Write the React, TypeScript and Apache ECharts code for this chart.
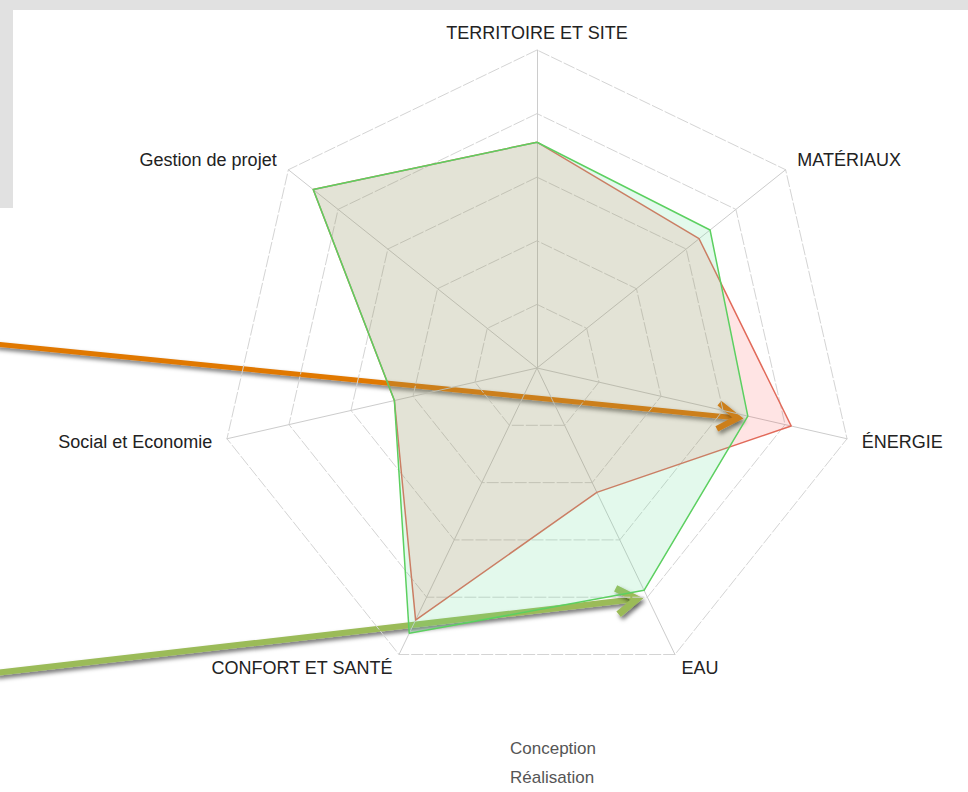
import React, { useEffect, useRef } from "react";
import * as echarts from "echarts";

const axes = [
  "TERRITOIRE ET SITE",
  "Gestion de projet",
  "Social et Economie",
  "CONFORT ET SANTÉ",
  "EAU",
  "ÉNERGIE",
  "MATÉRIAUX",
];
const axisMax = 5;
const conception = [3.55, 4.5, 2.3, 4.4, 2.17, 4.1, 3.26];
const realisation = [3.55, 4.5, 2.3, 4.63, 3.88, 3.4, 3.48];
const seriesNames = ["Conception", "Réalisation"];

function arrow(x1: number, y1: number, x2: number, y2: number, color: string, width: number) {
  const dx = x2 - x1;
  const dy = y2 - y1;
  const len = Math.sqrt(dx * dx + dy * dy);
  const ux = dx / len;
  const uy = dy / len;
  const nx = -uy;
  const ny = ux;
  const L = 20;
  const W = 13;
  const shadow = {
    shadowBlur: 4,
    shadowColor: "rgba(0,0,0,0.55)",
    shadowOffsetX: 2,
    shadowOffsetY: 3,
  };
  return {
    type: "group",
    z: 100,
    children: [
      {
        type: "line",
        shape: { x1, y1, x2: x2 - ux * 3, y2: y2 - uy * 3 },
        style: { stroke: color, lineWidth: width, ...shadow },
      },
      {
        type: "polyline",
        shape: {
          points: [
            [x2 - L * ux + W * nx, y2 - L * uy + W * ny],
            [x2, y2],
            [x2 - L * ux - W * nx, y2 - L * uy - W * ny],
          ],
        },
        style: { stroke: color, lineWidth: width + 1, fill: "none", lineJoin: "miter", ...shadow },
      },
    ],
  };
}

export default function App() {
  const ref = useRef<HTMLDivElement>(null);
  useEffect(() => {
    if (!ref.current) return;
    const chart = echarts.init(ref.current, null, { renderer: "svg" });
    chart.setOption({
      animation: false,
      backgroundColor: "#ffffff",
      legend: {
        orient: "vertical",
        left: 480,
        top: 740,
        padding: 0,
        data: seriesNames,
        itemWidth: 25,
        itemHeight: 14,
        itemGap: 12,
        icon: "rect",
        itemStyle: { color: "rgba(0,0,0,0)", borderWidth: 0 },
        lineStyle: { opacity: 0 },
        textStyle: { color: "#555", fontSize: 17, fontFamily: "Liberation Sans, Arial, sans-serif" },
        selectedMode: false,
      },
      radar: {
        center: [537, 368],
        radius: 318,
        startAngle: 90,
        splitNumber: 5,
        shape: "polygon",
        nameGap: 15,
        axisName: {
          color: "#222",
          fontSize: 18,
          fontFamily: "Liberation Sans, Arial, sans-serif",
          formatter: (name: string) => (name === axes[0] ? `{t|${name}}` : name),
          rich: {
            t: {
              color: "#222",
              fontSize: 18,
              lineHeight: 4,
              fontFamily: "Liberation Sans, Arial, sans-serif",
            },
          },
        },
        indicator: axes.map((n) => ({ name: n, max: axisMax, min: 0 })),
        axisLine: { lineStyle: { color: "#cccccc", width: 1 } },
        splitLine: { lineStyle: { color: "#d4d4d4", width: 1, type: [12, 2] } },
        splitArea: { show: false },
      },
      series: [
        {
          type: "radar",
          symbol: "none",
          data: [
            {
              name: seriesNames[0],
              value: conception,
              lineStyle: { color: "#e0705f", width: 1.5 },
              itemStyle: { color: "#e0705f" },
              areaStyle: { color: "rgba(255,0,0,0.15)" },
            },
            {
              name: seriesNames[1],
              value: realisation,
              lineStyle: { color: "#5ccf5c", width: 1.5 },
              itemStyle: { color: "#5ccf5c" },
              areaStyle: { color: "rgba(100,224,147,0.26)" },
            },
          ],
        },
      ],
      graphic: [
        { type: "rect", z: -10, shape: { x: 0, y: 0, width: 968, height: 10 }, style: { fill: "#e1e1e1" } },
        { type: "rect", z: -10, shape: { x: 0, y: 0, width: 13, height: 208 }, style: { fill: "#e1e1e1" } },
        arrow(-5, 344, 738, 418, "#e07800", 5),
        arrow(-5, 673, 637, 599, "#9bbb59", 6),
      ],
    });
    return () => chart.dispose();
  }, []);
  return (
    <div
      ref={ref}
      style={{ position: "fixed", left: 0, top: 0, width: 968, height: 792 }}
    />
  );
}
